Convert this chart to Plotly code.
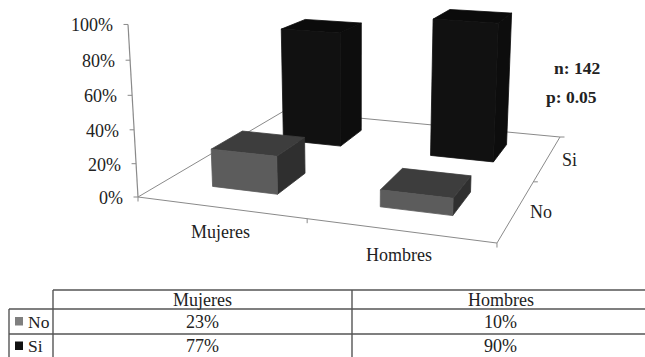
import plotly.graph_objects as go

# Chart content
categories = ["Mujeres", "Hombres"]
series = ["No", "Si"]
no_values = [23, 10]
si_values = [77, 90]
z_ticks = [0, 20, 40, 60, 80, 100]
notes = ["n: 142", "p: 0.05"]

WIDTH, HEIGHT = 645, 357
SERIF = "Liberation Serif"
TEXT = "#222222"
AXIS = "#8a8a8a"
RULE = "#555555"

# Perspective projection of the unit box (category, depth, value) to the plot plane
HX = (304.9, 238.5, 138.0)
HY = (19.6, -49.9, 197.0)
HW = (-0.1088, 0.3256, 1.0)
VERT_K = -0.0434
VERT_X, VERT_Y = 358.0, 4000.0


def project(u, v, z=0.0):
    w = HW[0] * u + HW[1] * v + HW[2] + VERT_K * z
    x = HX[0] * u + HX[1] * v + HX[2] + VERT_K * VERT_X * z
    y = HY[0] * u + HY[1] * v + HY[2] + VERT_K * VERT_Y * z
    return x / w, y / w


def polyline(points, color, width=1.0):
    xs, ys = zip(*points)
    return go.Scatter(x=xs, y=ys, mode="lines", line=dict(color=color, width=width),
                      hoverinfo="skip", showlegend=False)


def face(points, color):
    xs, ys = zip(*(points + points[:1]))
    return go.Scatter(x=xs, y=ys, mode="lines", fill="toself", fillcolor=color,
                      line=dict(color=color, width=0.8), hoverinfo="skip", showlegend=False)


def bar_faces(cat_index, ser_index, value, colors):
    u0, u1 = 0.15 + 0.5 * cat_index, 0.35 + 0.5 * cat_index
    v0, v1 = 0.15 + 0.5 * ser_index, 0.35 + 0.5 * ser_index
    z = value / 100
    front = [project(u0, v0), project(u1, v0), project(u1, v0, z), project(u0, v0, z)]
    side = [project(u1, v0), project(u1, v1), project(u1, v1, z), project(u1, v0, z)]
    top = [project(u0, v0, z), project(u1, v0, z), project(u1, v1, z), project(u0, v1, z)]
    return [face(side, colors[1]), face(top, colors[2]), face(front, colors[0])]


fig = go.Figure()

# Floor edges behind the bars
fig.add_trace(polyline([project(0, 0), project(0, 1), project(1, 1), project(1, 0), project(0, 0)], AXIS))

# Value axis with its tick marks
fig.add_trace(polyline([project(0, 0, 0), project(0, 0, 1)], AXIS, 1.2))
for t in z_ticks:
    px, py = project(0, 0, t / 100)
    fig.add_trace(polyline([(px - 4.5, py), (px, py)], AXIS))
    fig.add_annotation(x=px - 13, y=py + 1, text=f"{t}%", xanchor="right", yanchor="middle",
                       showarrow=False, font=dict(family=SERIF, size=18, color=TEXT))

# Category and depth axis ticks
for u in (0, 0.5, 1):
    px, py = project(u, 0)
    fig.add_trace(polyline([(px, py), (px, py + 4.5)], AXIS))
for v in (0.5, 1):
    px, py = project(1, v)
    fig.add_trace(polyline([(px, py), (px + 4.5, py)], AXIS))

# Bars, back row first so the front row overlaps it
SI_COLORS = ("#111111", "#0d0d0d", "#0b0b0b")
NO_COLORS = ("#5c5c5c", "#2f2f2f", "#3d3d3d")
for i, value in enumerate(si_values):
    for tr in bar_faces(i, 1, value, SI_COLORS):
        fig.add_trace(tr)
for i, value in enumerate(no_values):
    for tr in bar_faces(i, 0, value, NO_COLORS):
        fig.add_trace(tr)


def label(x, y, text, size=18, bold=False, anchor="center"):
    body = f"<b>{text}</b>" if bold else text
    fig.add_annotation(x=x, y=y, text=body, xanchor=anchor, yanchor="middle", showarrow=False,
                       font=dict(family=SERIF, size=size, color=TEXT))


# Axis category labels
for i, name in enumerate(categories):
    px, py = project(0.25 + 0.5 * i, 0)
    label(px, py + 24.5, name)
for j, name in enumerate(series):
    px, py = project(1, 0.25 + 0.5 * j)
    label(px + (24 if j == 0 else 22), py + 2, name)

# Sample size and significance notes
label(602, 68, notes[0], size=17.5, bold=True, anchor="right")
label(599, 97, notes[1], size=17.5, bold=True, anchor="right")

# Data table under the plot
COL_X = [53, 352, 645]
LEFT_X = 9
ROW_Y = [290, 309, 334, 357]
fig.add_trace(polyline([(COL_X[0], ROW_Y[0]), (COL_X[2], ROW_Y[0])], RULE, 1.6))
fig.add_trace(polyline([(LEFT_X, ROW_Y[1]), (COL_X[2], ROW_Y[1])], RULE, 1.6))
fig.add_trace(polyline([(LEFT_X, ROW_Y[2]), (COL_X[2], ROW_Y[2])], RULE, 1.6))
for x, top in ((LEFT_X, ROW_Y[1]), (COL_X[0], ROW_Y[0]), (COL_X[1], ROW_Y[0])):
    fig.add_trace(polyline([(x, top), (x, ROW_Y[3])], RULE, 1.4))

centers = [(COL_X[0] + COL_X[1]) / 2, (COL_X[1] + COL_X[2] + 4) / 2]
for i, name in enumerate(categories):
    label(centers[i], 299.5, name)
    label(centers[i], 321.5, f"{no_values[i]}%")
    label(centers[i], 346, f"{si_values[i]}%")

# Legend keys inside the table's row headers
SWATCHES = ("#7f7f7f", "#111111")
for j, (name, y) in enumerate(zip(series, (321.5, 346))):
    fig.add_shape(type="rect", x0=15, x1=23, y0=y - 4.5, y1=y + 4, fillcolor=SWATCHES[j], line_width=0, layer="above")
    label(26, y, name, size=17.5, anchor="left")

fig.update_layout(
    width=WIDTH, height=HEIGHT,
    margin=dict(l=0, r=0, t=0, b=0),
    paper_bgcolor="white", plot_bgcolor="white",
    showlegend=False,
    xaxis=dict(range=[0, WIDTH], visible=False, fixedrange=True),
    yaxis=dict(range=[HEIGHT, 0], visible=False, fixedrange=True),
)
fig.write_html("out.html", config={"displayModeBar": False})
